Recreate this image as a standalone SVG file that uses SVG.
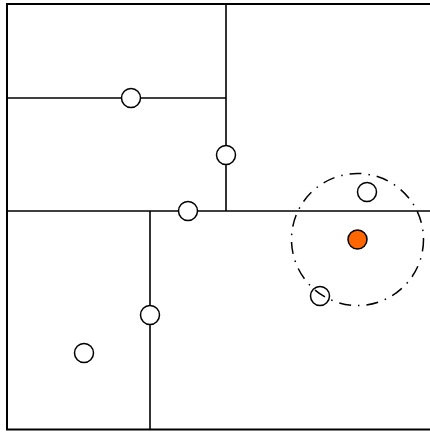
<svg xmlns="http://www.w3.org/2000/svg" width="430" height="432" viewBox="0 0 430 432">
<style>
.frame{fill:none;stroke:#000;stroke-width:2}
.split{fill:none;stroke:#000;stroke-width:1.6}
.pt{fill:#fff;stroke:#000;stroke-width:1.5}
.q{fill:#ff6600;stroke:#000;stroke-width:1.5}
.range{fill:none;stroke:#000;stroke-width:1.5;stroke-dasharray:12,7,1.5,7}
</style>
<rect width="430" height="432" fill="#fff"/>
<g id="connectors">
<path class="frame" d="M440,4 H7 V429.5 H440"/>
<line class="split" x1="7" y1="211" x2="432" y2="211"/>
<line class="split" x1="226" y1="4" x2="226" y2="211"/>
<line class="split" x1="7" y1="98" x2="226" y2="98"/>
<line class="split" x1="150" y1="211" x2="150" y2="429"/>
</g>
<g id="p1"><circle class="pt" cx="131" cy="98" r="9.5"/></g>
<g id="p2"><circle class="pt" cx="226" cy="155" r="9.5"/></g>
<g id="p3"><circle class="pt" cx="188" cy="211" r="9.5"/></g>
<g id="p4"><circle class="pt" cx="150" cy="315" r="9.5"/></g>
<g id="p5"><circle class="pt" cx="84" cy="353" r="9.5"/></g>
<g id="p6"><circle class="pt" cx="367" cy="192" r="9.5"/></g>
<g id="p7"><circle class="pt" cx="320" cy="296" r="9.5"/></g>
<g id="query"><circle class="q" cx="357.5" cy="239.5" r="9.5"/></g>
<g id="range"><circle class="range" cx="357.5" cy="239.5" r="66"/></g>
</svg>
